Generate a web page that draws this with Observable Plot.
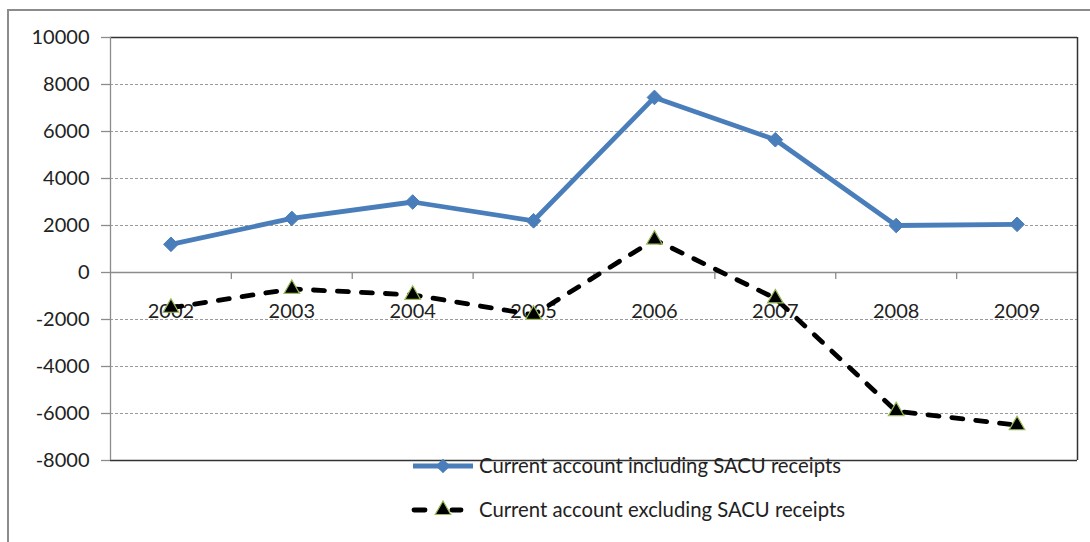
<!DOCTYPE html>
<html>
<head>
<meta charset="utf-8">
<script src="https://cdn.jsdelivr.net/npm/d3@7"></script>
<script src="https://cdn.jsdelivr.net/npm/@observablehq/plot@0.6"></script>
<style>
  html, body { margin: 0; padding: 0; background: #fff; }
  #wrap { position: relative; width: 1090px; height: 542px; overflow: hidden; font-family: Lato, "Open Sans", sans-serif; }
  #frame { position: absolute; left: 7px; top: 9px; width: 1100px; height: 600px; border-left: 2px solid #8c8c8c; border-top: 2px solid #8c8c8c; }
  #chart { position: absolute; left: 0; top: 0; }
  #legend { position: absolute; left: 0; top: 0; width: 1090px; height: 542px; pointer-events: none; }
</style>
</head>
<body>
<div id="wrap">
  <div id="frame"></div>
  <div id="chart"></div>
  <svg id="legend" width="1090" height="542"></svg>
</div>
<script>
const years = [2002, 2003, 2004, 2005, 2006, 2007, 2008, 2009];
const including = [1200, 2300, 3000, 2200, 7450, 5650, 2000, 2050];
const excluding = [-1500, -700, -950, -1800, 1400, -1100, -5900, -6500];
const yTicks = [10000, 8000, 6000, 4000, 2000, 0, -2000, -4000, -6000, -8000];
const gridTicks = [8000, 6000, 4000, 2000, -2000, -4000, -6000];
const boundaries = [2002.5, 2003.5, 2004.5, 2005.5, 2006.5, 2007.5, 2008.5];
const seriesNames = ["Current account including SACU receipts", "Current account excluding SACU receipts"];

const incData = years.map((y, i) => ({year: y, value: including[i]}));
const excData = years.map((y, i) => ({year: y, value: excluding[i]}));

const blue = "#4a7ebb";
const font = "Lato, 'Open Sans', sans-serif";

const chart = Plot.plot({
  width: 1090,
  height: 474,
  marginLeft: 110,
  marginRight: 13,
  marginTop: 37,
  marginBottom: 14,
  style: {fontFamily: font, background: "transparent"},
  x: {type: "linear", domain: [2001.5, 2009.5], axis: null},
  y: {domain: [-8000, 10000], axis: null},
  marks: [
    Plot.ruleY(gridTicks, {stroke: "#9a9a9a", strokeDasharray: "3,2", strokeWidth: 1}),
    Plot.ruleY([0], {stroke: "#8c8c8c", strokeWidth: 1.3}),
    Plot.ruleX(boundaries, {y1: 0, y2: -300, stroke: "#8c8c8c", strokeWidth: 1.3}),
    Plot.ruleY([10000, -8000], {stroke: "#333", strokeWidth: 1.5}),
    Plot.ruleX([2009.5], {stroke: "#333", strokeWidth: 1.5}),
    Plot.ruleX([2001.5], {stroke: "#8c8c8c", strokeWidth: 1.3}),
    Plot.ruleY(yTicks, {x1: 2001.5, x2: 2001.5, insetLeft: -9, stroke: "#8c8c8c", strokeWidth: 1.3}),
    Plot.text(yTicks, {x: 2001.5, y: d => d, text: d => String(d), textAnchor: "end", dx: -21, fontSize: 20, fill: "#222"}),
    Plot.text(years, {x: d => d, y: 0, text: d => String(d), dy: 39, fontSize: 20, fill: "#222"}),
    Plot.line(incData, {x: "year", y: "value", stroke: blue, strokeWidth: 4.8}),
    Plot.dot(incData, {x: "year", y: "value", symbol: "diamond2", r: 6.6, fill: blue, stroke: blue, strokeWidth: 1}),
    Plot.line(excData, {x: "year", y: "value", stroke: "#000", strokeWidth: 4.8, strokeDasharray: "11,13", strokeLinecap: "round"}),
    Plot.dot(excData, {x: "year", y: "value", symbol: "triangle", r: 5.8, fill: "#000", stroke: "#9bbb59", strokeWidth: 1.2})
  ]
});
document.getElementById("chart").appendChild(chart);

// Legend (below the plot area)
const leg = d3.select("#legend");
const sym = d3.symbol();
leg.append("line").attr("x1", 413).attr("x2", 473).attr("y1", 466).attr("y2", 466)
  .attr("stroke", blue).attr("stroke-width", 4.8);
leg.append("path").attr("transform", "translate(443,466)")
  .attr("d", sym.type(d3.symbolDiamond2).size(Math.PI * 6.6 * 6.6)()).attr("fill", blue);
leg.append("line").attr("x1", 414).attr("x2", 425).attr("y1", 510).attr("y2", 510)
  .attr("stroke", "#000").attr("stroke-width", 4.8).attr("stroke-linecap", "round");
leg.append("line").attr("x1", 452).attr("x2", 461).attr("y1", 510).attr("y2", 510)
  .attr("stroke", "#000").attr("stroke-width", 4.8).attr("stroke-linecap", "round");
leg.append("path").attr("transform", "translate(443,510)")
  .attr("d", sym.type(d3.symbolTriangle).size(Math.PI * 5.8 * 5.8)()).attr("fill", "#000")
  .attr("stroke", "#9bbb59").attr("stroke-width", 1.2);
[466, 510].forEach((cy, i) => {
  leg.append("text").attr("x", 479).attr("y", cy).attr("dy", "0.35em")
    .attr("font-family", font).attr("font-size", 20.3).attr("fill", "#222").text(seriesNames[i]);
});
</script>
</body>
</html>
